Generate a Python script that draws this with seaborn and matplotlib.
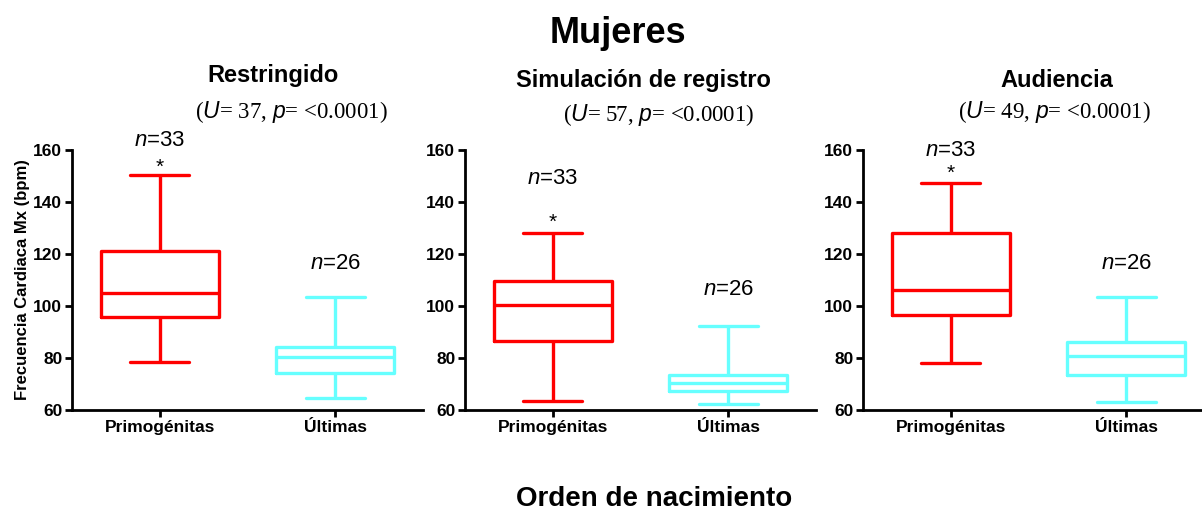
import numpy as np
import pandas as pd
import matplotlib
matplotlib.use("Agg")
import matplotlib.pyplot as plt
import seaborn as sns

# Grupos y condiciones
grupos = ["Primogénitas", "Últimas"]
condiciones = ["Restringido", "Simulación de registro", "Audiencia"]

# Resumen de cinco numeros: min, Q1, mediana, Q3, max
restringido_prim = [78.6, 95.9, 105.0, 121.3, 150.4]
restringido_ult = [64.5, 74.3, 80.5, 84.1, 103.6]
simulacion_prim = [63.5, 86.7, 100.2, 109.7, 127.9]
simulacion_ult = [62.2, 67.3, 70.5, 73.6, 92.5]
audiencia_prim = [78.2, 96.7, 106.0, 128.0, 147.5]
audiencia_ult = [63.1, 73.6, 80.7, 86.1, 103.5]

valores_U = [37, 57, 49]
valor_p = "<0.0001"
n_prim = 33
n_ult = 26

# Tabla larga para seaborn
filas = []
for cond, prim, ult in zip(condiciones,
                           [restringido_prim, simulacion_prim, audiencia_prim],
                           [restringido_ult, simulacion_ult, audiencia_ult]):
    for v in prim:
        filas.append((cond, grupos[0], v))
    for v in ult:
        filas.append((cond, grupos[1], v))
df = pd.DataFrame(filas, columns=["condicion", "grupo", "fc"])

sns.set_style("white")
plt.rcParams["font.family"] = ["Liberation Sans", "DejaVu Sans"]
plt.rcParams["mathtext.fontset"] = "custom"
plt.rcParams["mathtext.it"] = "Liberation Sans:italic"
plt.rcParams["mathtext.rm"] = "Liberation Sans"
for k in ["text.color", "axes.labelcolor", "xtick.color", "ytick.color"]:
    plt.rcParams[k] = "black"

colores = {"Primogénitas": "#FF0000", "Últimas": "#66FFFF"}

W, H = 1202, 514
fig = plt.figure(figsize=(W / 100, H / 100), dpi=100)

# posiciones (px) de los ejes
izq_px = [72, 465, 863]
ancho_px = 351
abajo_px, arriba_px = 410, 150

# posiciones de anotaciones (en unidades de datos)
pos_n33 = [163.8, 149.1, 160.0]
pos_star = [153.5, 132.0, 151.2]
pos_n26 = [116.5, 106.3, 116.5]

# titulos y estadisticos (px)
titulo_xy = [(273, 82), (643, 87), (1057, 87)]
stats_xy = [(195, 118), (563, 121), (958, 118)]

for i, cond in enumerate(condiciones):
    ax = fig.add_axes([izq_px[i] / W, 1 - abajo_px / H,
                       ancho_px / W, (abajo_px - arriba_px) / H])
    sub = df[df["condicion"] == cond]
    sns.boxplot(data=sub, x="grupo", y="fc", hue="grupo", order=grupos,
                hue_order=grupos, palette=colores, fill=False,
                whis=(0, 100), width=0.67, linewidth=2.4, legend=False, ax=ax)
    ax.set_xlim(-0.5, 1.5)
    ax.set_ylim(60, 160)
    ax.set_yticks(np.arange(60, 161, 20))
    ax.set_xlabel("")
    ax.set_ylabel("")
    sns.despine(ax=ax)
    for s in ["left", "bottom"]:
        ax.spines[s].set_linewidth(2)
        ax.spines[s].set_color("black")
    ax.tick_params(axis="both", direction="out", length=5, width=2,
                   labelsize=12.5, pad=2, left=True, bottom=True)
    for lab in ax.get_xticklabels() + ax.get_yticklabels():
        lab.set_fontweight("bold")

    ax.text(0, pos_n33[i], r"$\mathit{n}$=%d" % n_prim, ha="center",
            va="center", fontsize=16)
    ax.text(0, pos_star[i], "*", ha="center", va="center", fontsize=15)
    ax.text(1, pos_n26[i], r"$\mathit{n}$=%d" % n_ult, ha="center",
            va="center", fontsize=16)

    if i == 0:
        ax.set_ylabel("Frecuencia Cardiaca Mx (bpm)", fontsize=12,
                      fontweight="bold")
        ax.yaxis.set_label_coords(-0.12, 0.5)

    fig.text(titulo_xy[i][0] / W, 1 - titulo_xy[i][1] / H, cond,
             ha="center", va="baseline", fontsize=17, fontweight="bold")
    fig.text(stats_xy[i][0] / W, 1 - stats_xy[i][1] / H,
             r"($\mathit{U}$= %d, $\mathit{p}$= %s)" % (valores_U[i], valor_p),
             ha="left", va="baseline", fontsize=16.5, family="Liberation Serif")

fig.text(618 / W, 1 - 43 / H, "Mujeres", ha="center", va="baseline",
         fontsize=26, fontweight="bold")
fig.text(654 / W, 1 - 506 / H, "Orden de nacimiento", ha="center",
         va="baseline", fontsize=20, fontweight="bold")

fig.savefig("out.png", dpi=100)
